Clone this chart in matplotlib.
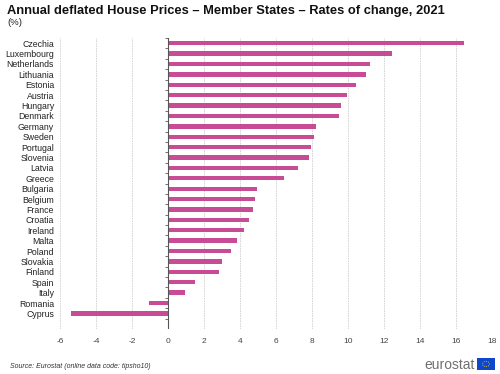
import numpy as np
import matplotlib
matplotlib.use("Agg")
import matplotlib.pyplot as plt
from matplotlib.patches import Rectangle

plt.rcParams["font.family"] = ["Liberation Sans", "DejaVu Sans"]

# Data
countries = ["Czechia", "Luxembourg", "Netherlands", "Lithuania", "Estonia", "Austria",
             "Hungary", "Denmark", "Germany", "Sweden", "Portugal", "Slovenia", "Latvia",
             "Greece", "Bulgaria", "Belgium", "France", "Croatia", "Ireland", "Malta",
             "Poland", "Slovakia", "Finland", "Spain", "Italy", "Romania", "Cyprus"]
rates = [16.4, 12.4, 11.2, 11.0, 10.4, 9.9, 9.6, 9.5, 8.2, 8.1, 7.9, 7.8, 7.2,
         6.4, 4.9, 4.8, 4.7, 4.5, 4.2, 3.8, 3.5, 3.0, 2.8, 1.5, 0.9, -1.1, -5.4]
xticks = [-6, -4, -2, 0, 2, 4, 6, 8, 10, 12, 14, 16, 18]

bar_color = "#c84b96"

fig = plt.figure(figsize=(5, 3.74), dpi=100)
ax = fig.add_axes([60.3 / 500, 1 - 329 / 374, 432 / 500, 291 / 374])

y = np.arange(len(countries))
ax.barh(y, rates, height=0.42, color=bar_color, zorder=3)

# one empty slot below the last category, like the original
ax.set_xlim(-6, 18)
ax.set_ylim(len(countries) + 0.5, -0.5)
ax.set_xticks(xticks)
ax.set_xticklabels([str(t) for t in xticks], fontsize=6, color="#444444")
ax.set_yticks(y)
ax.set_yticklabels(countries, fontsize=6.3, color="#222222")
ax.tick_params(axis="both", length=0)
ax.tick_params(axis="y", pad=4.5)
ax.tick_params(axis="x", pad=6.5)

for s in ax.spines.values():
    s.set_visible(False)

ax.grid(axis="x", color="#d0d0d0", linestyle=(0, (2, 1)), linewidth=0.6, zorder=0)

# zero line with small category ticks
ax.axvline(0, color="#555555", linewidth=0.8, zorder=4)
bounds = np.arange(len(countries) + 2) - 0.5
ax.hlines(bounds, -0.17, 0, color="#555555", linewidth=0.6, zorder=4)

fig.text(7 / 500, 1 - 11 / 374, "Annual deflated House Prices \u2013 Member States \u2013 Rates of change, 2021",
         fontsize=9.3, fontweight="bold", va="center", ha="left", color="#111111")
fig.text(7 / 500, 1 - 22.5 / 374, "(%)", fontsize=6.8, va="center", ha="left", color="#222222")

fig.text(10 / 500, 1 - 366 / 374, "Source: Eurostat (online data code: tipsho10)",
         fontsize=5, style="italic", va="center", ha="left", color="#333333")

# eurostat logo
fig.text(475 / 500, 1 - 365 / 374, "eurostat", fontsize=10, va="center", ha="right",
         color="#707070")
fig.patches.append(Rectangle((477 / 500, 1 - 370 / 374), 18 / 500, 12 / 374,
                             transform=fig.transFigure, facecolor="#0e47cb",
                             edgecolor="none"))
fig.patches.append(plt.Circle((486 / 500, 1 - 364 / 374), 3.5 / 500, transform=fig.transFigure,
                              facecolor="none", edgecolor="#ffd617", linewidth=0.6,
                              linestyle=":"))

fig.savefig("out.png", dpi=100)
